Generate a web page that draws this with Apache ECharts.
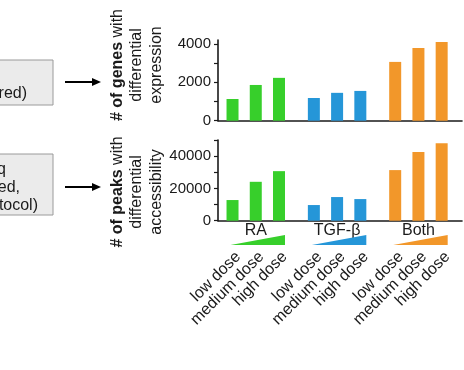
<!DOCTYPE html>
<html><head><meta charset="utf-8">
<script src="https://cdn.jsdelivr.net/npm/echarts@6/dist/echarts.min.js"></script>
<style>html,body{margin:0;padding:0;background:#fff}#c{width:464px;height:370px}</style>
</head><body><div id="c"></div>
<script>
const groups = ['RA', 'TGF-β', 'Both'];
const doses = ['low dose', 'medium dose', 'high dose'];
const groupColors = ['#37cf2b', '#2596d8', '#f2972a'];
const genesRA = [1130, 1860, 2230];
const genesTGF = [1180, 1450, 1550];
const genesBoth = [3060, 3790, 4100];
const peaksRA = [12800, 24100, 30700];
const peaksTGF = [9700, 14650, 13400];
const peaksBoth = [31350, 42500, 48000];
const genesTicks = [0, 1000, 2000, 3000, 4000];
const genesTickLabels = [0, 2000, 4000];
const peaksTicks = [0, 10000, 20000, 30000, 40000, 50000];
const peaksTickLabels = [0, 20000, 40000];

const genesByGroup = [genesRA, genesTGF, genesBoth];
const peaksByGroup = [peaksRA, peaksTGF, peaksBoth];

const FONT = '"Liberation Sans", Arial, Helvetica, sans-serif';
const INK = '#1a1a1a';
// slot layout on a fine category axis (spacers between groups)
const SLOTS = 42, FIRST = 2, DOSE_STEP = 4, GROUP_STEP = 14;
const slot = (gi, di) => FIRST + gi * GROUP_STEP + di * DOSE_STEP;
const cats = [];
for (let i = 0; i < SLOTS; i++) cats.push('_' + i);
groups.forEach((g, gi) => doses.forEach((d, di) => { cats[slot(gi, di)] = g + '|' + d; }));
function buildData(byGroup) {
  const arr = cats.map(() => '-');
  groups.forEach((g, gi) => doses.forEach((d, di) => {
    arr[slot(gi, di)] = { value: byGroup[gi][di], itemStyle: { color: groupColors[gi] } };
  }));
  return arr;
}

const chart = echarts.init(document.getElementById('c'), null, { renderer: 'canvas' });
const gridCommon = { left: 218, right: 2, containLabel: false, outerBoundsMode: 'none' };
function xAxis(idx, showLabels) {
  return {
    type: 'category', gridIndex: idx, data: cats,
    axisLine: { show: true, lineStyle: { color: INK, width: 1.6 } },
    axisTick: { show: false },
    splitLine: { show: false },
    axisLabel: {
      show: showLabels, interval: 0, rotate: 45, margin: 28, verticalAlign: 'top',
      fontSize: 16, fontFamily: FONT, color: INK,
      formatter: v => v.startsWith('_') ? '' : v.split('|')[1]
    }
  };
}
function yAxis(idx, max, ticks, labels) {
  return {
    type: 'value', gridIndex: idx, min: 0, max: max,
    axisLine: { show: true, lineStyle: { color: INK, width: 1.6 } },
    axisTick: { show: true, inside: false, length: 4, customValues: ticks, lineStyle: { color: INK, width: 1.2 } },
    axisLabel: { customValues: labels, margin: 7, fontSize: 15, fontFamily: FONT, color: INK, formatter: v => String(v) },
    splitLine: { show: false }
  };
}
chart.setOption({
  animation: false,
  backgroundColor: '#fff',
  grid: [
    Object.assign({ top: 40, height: 80.7 }, gridCommon),
    Object.assign({ top: 140, height: 80.7 }, gridCommon)
  ],
  xAxis: [xAxis(0, false), xAxis(1, true)],
  yAxis: [yAxis(0, 4200, genesTicks, genesTickLabels), yAxis(1, 50000, peaksTicks, peaksTickLabels)],
  series: [
    { type: 'bar', xAxisIndex: 0, yAxisIndex: 0, barWidth: 12, data: buildData(genesByGroup) },
    { type: 'bar', xAxisIndex: 1, yAxisIndex: 1, barWidth: 12, data: buildData(peaksByGroup) }
  ]
});

const cx = (gi, di) => chart.convertToPixel({ xAxisIndex: 1 }, cats[slot(gi, di)]);
const graphics = [];
function txt(x, y, text, opts) {
  return Object.assign({
    type: 'text', x: x, y: y, silent: true,
    style: Object.assign({ text: text, fontSize: 16, fontFamily: FONT, fill: INK,
      align: 'center', verticalAlign: 'middle', textAlign: 'center', textVerticalAlign: 'middle' }, opts && opts.style || {})
  }, opts && opts.el || {});
}
// group labels and dose wedges
groups.forEach((g, gi) => {
  const xl = cx(gi, 0) - 2, xm = cx(gi, 1), xr = cx(gi, 2) + 6;
  graphics.push(txt(xm, 231, g));
  graphics.push({ type: 'polygon', silent: true, shape: { points: [[xl, 245], [xr, 235], [xr, 245]] }, style: { fill: groupColors[gi] } });
});
// y-axis titles
const rich = { b: { fontWeight: 'bold', fontSize: 16, fontFamily: FONT, fill: INK } };
graphics.push(txt(137, 65, '{b|# of genes} with\ndifferential\nexpression', { el: { rotation: Math.PI / 2 }, style: { rich: rich, lineHeight: 19.5 } }));
graphics.push(txt(137, 192, '{b|# of peaks} with\ndifferential\naccessibility', { el: { rotation: Math.PI / 2 }, style: { rich: rich, lineHeight: 19.5 } }));
// left boxes (cropped)
graphics.push({ type: 'rect', silent: true, shape: { x: -2, y: 60, width: 55, height: 45 }, style: { fill: '#ebebeb', stroke: '#9a9a9a', lineWidth: 1 } });
graphics.push(txt(27, 94, 'red)', { style: { align: 'right', textAlign: 'right' } }));
graphics.push({ type: 'rect', silent: true, shape: { x: -2, y: 154, width: 55, height: 61 }, style: { fill: '#ebebeb', stroke: '#9a9a9a', lineWidth: 1 } });
graphics.push(txt(6, 170, 'q', { style: { align: 'right', textAlign: 'right' } }));
graphics.push(txt(20, 188, 'red,', { style: { align: 'right', textAlign: 'right' } }));
graphics.push(txt(38, 206, 'tocol)', { style: { align: 'right', textAlign: 'right' } }));
// arrows
[82, 187].forEach(y => {
  graphics.push({ type: 'line', silent: true, shape: { x1: 65, y1: y, x2: 94, y2: y }, style: { stroke: '#000', lineWidth: 2 } });
  graphics.push({ type: 'polygon', silent: true, shape: { points: [[92, y - 4], [101, y], [92, y + 4]] }, style: { fill: '#000' } });
});
chart.setOption({ graphic: graphics });
</script>
</body></html>
